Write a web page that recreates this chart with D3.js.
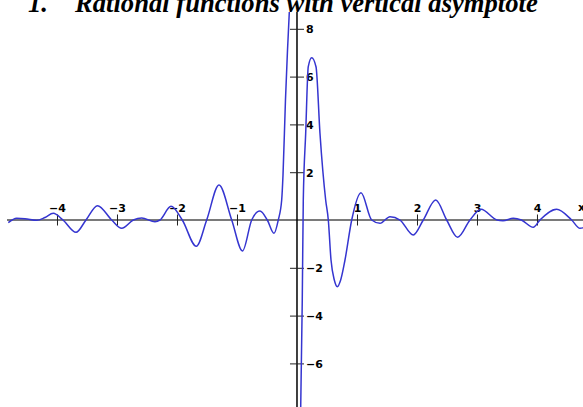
<!DOCTYPE html>
<html><head><meta charset="utf-8">
<script src="https://cdn.jsdelivr.net/npm/d3@7"></script>
<style>
html,body{margin:0;padding:0;background:#fff;overflow:hidden;}
svg{display:block;}
</style></head>
<body>
<script>
const titleNum = "1.";
const titleText = "Rational functions with vertical asymptote";
const xTicks = [-4, -3, -2, -1, 1, 2, 3, 4];
const yTicks = [-6, -4, -2, 2, 4, 6, 8];
const axisLabel = "x";
// curve: left of the asymptote
const leftX = [-4.812,-4.672,-4.533,-4.338,-4.2,-4.062,-3.9,-3.683,-3.517,-3.325,-3.088,-2.922,-2.728,-2.588,-2.367,-2.283,-2.1,-1.912,-1.678,-1.505,-1.3,-1.088,-0.908,-0.755,-0.617,-0.495,-0.383,-0.312,-0.255,-0.233,-0.192,-0.158,-0.128,-0.108];
const leftY = [-0.113,0.071,0.054,-0.013,0.105,0.28,0,-0.515,0,0.6,0,-0.347,0,0.084,-0.071,0,0.573,0,-1.1,0,1.464,0,-1.297,0,0.377,0,-0.556,0,0.837,1.883,5.02,7.113,8.703,10.04];
// right of the asymptote
const rightX = [0.053,0.062,0.088,0.105,0.145,0.188,0.245,0.317,0.383,0.478,0.522,0.567,0.622,0.672,0.728,0.8,0.912,1.067,1.245,1.383,1.55,1.717,1.938,2.105,2.312,2.495,2.678,2.883,3.067,3.333,3.433,3.605,3.74,3.938,4.05,4.328,4.578,4.717,4.883];
const rightY = [-8.787,-7.824,-3.347,0.837,3.628,6.414,6.791,6.414,3.628,0.837,0,-1.674,-2.51,-2.791,-2.51,-1.674,0,1.142,0,-0.138,0.138,0,-0.628,0,0.837,0,-0.724,0,0.448,0,-0.033,0.071,0,-0.305,0,0.448,0,-0.347,-0.21];

const W = 583, H = 407;
const svg = d3.select("body").append("svg").attr("width", W).attr("height", H);

const x = d3.scaleLinear().domain([-4.95, 4.767]).range([0, W]);
const y = d3.scaleLinear().domain([-7.824, 8.703]).range([407, 12]);

// title
const tg = svg.append("g").attr("font-family", "'Liberation Serif','Times New Roman',serif")
  .attr("font-weight", "bold").attr("font-style", "italic");
const t1 = tg.append("text").attr("x", 28).attr("y", 12).attr("font-size", 26).text(titleNum);
const t2 = tg.append("text").attr("x", 75).attr("y", 12).attr("font-size", 26).text(titleText);
const len = t2.node().getComputedTextLength();
const fs = 26 * 463 / len;
t1.attr("font-size", fs); t2.attr("font-size", fs);

const labFont = "'DejaVu Sans',sans-serif";
// x axis line
svg.append("line").attr("x1", 7).attr("x2", W).attr("y1", y(0)).attr("y2", y(0))
  .attr("stroke", "#7a7a7a").attr("stroke-width", 2);

// x ticks
const gx = svg.append("g").attr("transform", `translate(0,${y(0) - 5.5})`)
  .call(d3.axisBottom(x).tickValues(xTicks).tickSize(11).tickFormat(d3.format("d")));
gx.select(".domain").remove();
gx.selectAll(".tick line").attr("stroke", "#222").attr("stroke-width", 1);
gx.selectAll(".tick text").attr("y", -3).attr("dy", 0)
  .attr("font-family", labFont).attr("font-weight", "bold").attr("font-size", 11).attr("fill", "#000");

svg.append("text").attr("x", 578).attr("y", y(0) - 9).attr("font-family", labFont)
  .attr("font-weight", "bold").attr("font-size", 11).text(axisLabel);

// y axis line
svg.append("line").attr("x1", x(0)).attr("x2", x(0)).attr("y1", 12).attr("y2", H)
  .attr("stroke", "#000").attr("stroke-width", 1.5);
const gy = svg.append("g").attr("transform", `translate(${x(0) - 7},0)`)
  .call(d3.axisRight(y).tickValues(yTicks).tickSize(14).tickFormat(d3.format("d")));
gy.select(".domain").remove();
gy.selectAll(".tick line").attr("stroke", "#222").attr("stroke-width", 1);
gy.selectAll(".tick text").attr("x", 16).attr("dy", "0.36em")
  .attr("font-family", labFont).attr("font-weight", "bold").attr("font-size", 11).attr("fill", "#000");

// curve
svg.append("clipPath").attr("id", "clip").append("rect").attr("x", 0).attr("y", 12).attr("width", W).attr("height", H - 12);
const line = d3.line().x(d => x(d[0])).y(d => y(d[1])).curve(d3.curveMonotoneX);
const segs = [d3.zip(leftX, leftY), d3.zip(rightX, rightY)];
svg.append("g").attr("clip-path", "url(#clip)").selectAll("path").data(segs).join("path")
  .attr("d", line).attr("fill", "none").attr("stroke", "#3535d0").attr("stroke-width", 1.5);
</script>
</body></html>
